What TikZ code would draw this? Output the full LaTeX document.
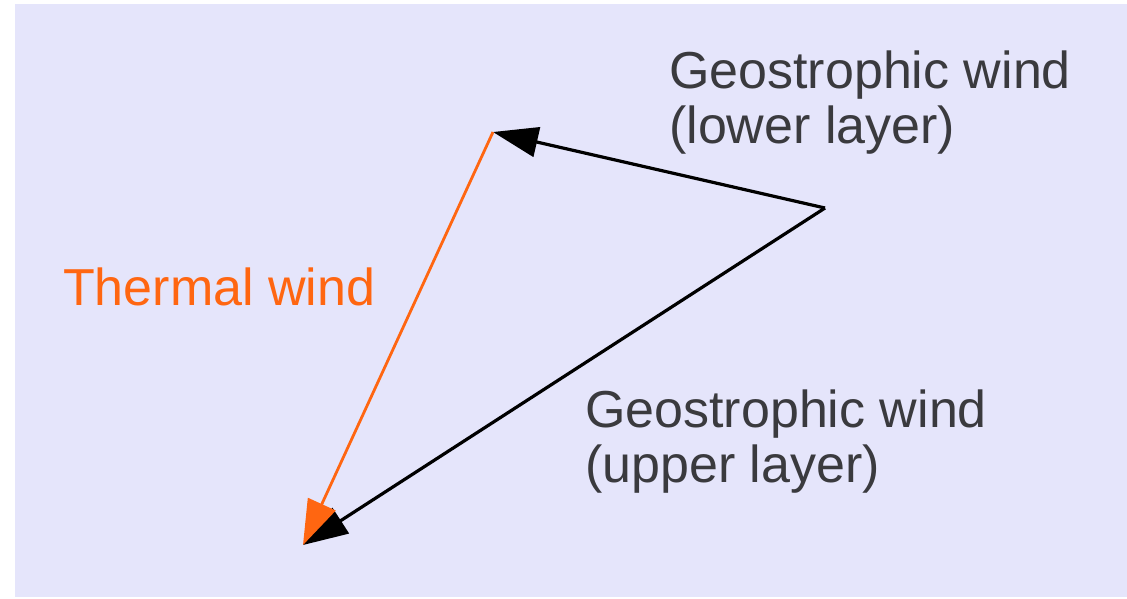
\documentclass[tikz,border=0pt]{standalone}
\usepackage{fontspec}
\setmainfont{Liberation Sans}
\usetikzlibrary{arrows.meta}
\definecolor{bgcol}{RGB}{229,229,251}
\definecolor{txtgray}{RGB}{58,58,62}
\definecolor{thermal}{RGB}{255,102,17}
\tikzset{
  vec/.style={line width=3.2pt,-{Triangle[length=45pt,width=30pt]}},
  lbl/.style={inner sep=0pt,anchor=base west,align=left,text=txtgray,
    font=\fontsize{52}{55}\selectfont},
}
\begin{document}
\begin{tikzpicture}[x=1pt,y=-1pt]
\useasboundingbox (0,0) rectangle (1127,598);
\fill[bgcol] (15,4) rectangle (1127,597);
\coordinate (A) at (493,132);
\coordinate (B) at (825,208);
\coordinate (C) at (303,545);
\draw[vec,black,line join=miter] (B) -- (A);
\draw[vec,black] (B) -- (C);
\draw[vec,thermal,line width=2.8pt] (A) -- (C);
\node[lbl] (lower) at (669,143) {Geostrophic wind\\(lower layer)};
\node[lbl] (upper) at (585,482) {Geostrophic wind\\(upper layer)};
\node[lbl,text=thermal] (tw) at (63,305) {Thermal wind};
\end{tikzpicture}
\end{document}
